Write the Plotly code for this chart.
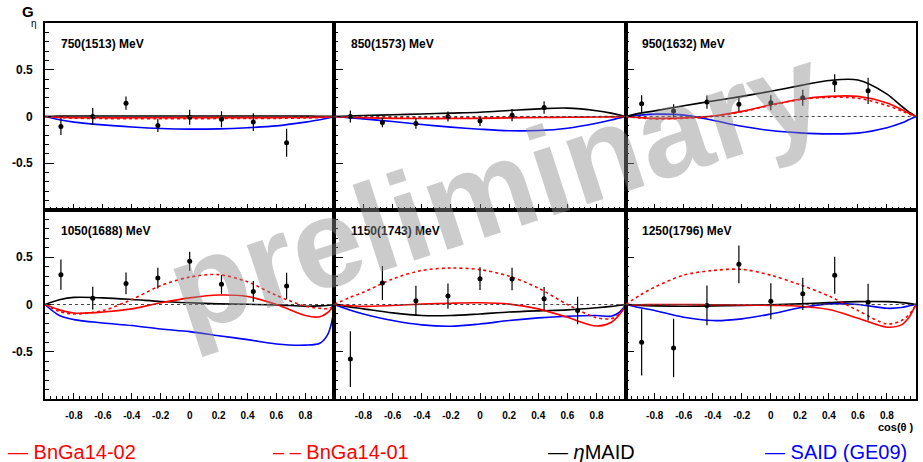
import plotly.graph_objects as go
from plotly.subplots import make_subplots

# ---------------- data ----------------
PANEL_LABELS = ["750(1513) MeV", "850(1573) MeV", "950(1632) MeV",
                "1050(1688) MeV", "1150(1743) MeV", "1250(1796) MeV"]

X_PTS = [-0.89, -0.67, -0.44, -0.22, 0.0, 0.22, 0.44, 0.67]

Y_750 = [-0.107, 0.0, 0.143, -0.096, -0.007, -0.03, -0.06, -0.28]
E_750 = [0.09, 0.09, 0.07, 0.07, 0.08, 0.085, 0.095, 0.15]
Y_850 = [0.0, -0.064, -0.075, 0.0, -0.046, 0.014, 0.096, None]
E_850 = [0.065, 0.05, 0.057, 0.054, 0.055, 0.066, 0.066, None]
Y_950 = [0.136, 0.06, 0.154, 0.132, 0.146, 0.2, 0.357, 0.275]
E_950 = [0.09, 0.07, 0.07, 0.075, 0.08, 0.085, 0.095, 0.14]
Y_1050 = [0.316, 0.067, 0.223, 0.28, 0.457, 0.213, 0.138, 0.195]
E_1050 = [0.16, 0.12, 0.115, 0.11, 0.1, 0.1, 0.11, 0.14]
Y_1150 = [-0.578, 0.227, 0.039, 0.089, 0.273, 0.27, 0.06, -0.064]
E_1150 = [0.295, 0.18, 0.16, 0.133, 0.12, 0.12, 0.124, 0.145]
Y_1250 = [-0.4, -0.46, -0.01, 0.425, 0.035, 0.113, 0.31, 0.025]
E_1250 = [0.35, 0.31, 0.21, 0.2, 0.19, 0.17, 0.195, 0.195]

# model curves, values read at these cos(theta) nodes
X_CURVE = [-1, -0.9, -0.8, -0.6, -0.4, -0.2, 0, 0.2, 0.4, 0.6, 0.8, 0.9, 0.95, 0.98, 1]

BNGA02_750 = [0, -0.008, -0.012, -0.014, -0.014, -0.013, -0.012, -0.012, -0.012, -0.012, -0.01, -0.007, -0.004, -0.002, 0]
BNGA01_750 = [0, -0.012, -0.018, -0.022, -0.024, -0.024, -0.023, -0.022, -0.021, -0.02, -0.016, -0.011, -0.006, -0.003, 0]
MAID_750 = [0, 0.004, 0.005, 0.005, 0.005, 0.005, 0.005, 0.005, 0.005, 0.005, 0.004, 0.003, 0.002, 0.001, 0]
SAID_750 = [0, -0.035, -0.06, -0.09, -0.112, -0.128, -0.135, -0.132, -0.12, -0.1, -0.06, -0.035, -0.018, -0.007, 0]

BNGA02_850 = [0, -0.008, -0.014, -0.02, -0.022, -0.022, -0.02, -0.015, -0.01, -0.008, -0.006, -0.004, -0.002, -0.001, 0]
BNGA01_850 = [0, -0.005, -0.008, -0.012, -0.014, -0.013, -0.01, -0.006, -0.003, -0.002, -0.002, -0.001, -0.001, 0, 0]
MAID_850 = [0, 0.004, 0.01, 0.018, 0.027, 0.036, 0.046, 0.064, 0.082, 0.09, 0.062, 0.036, 0.018, 0.007, 0]
SAID_850 = [0, -0.012, -0.025, -0.054, -0.086, -0.114, -0.136, -0.152, -0.15, -0.125, -0.072, -0.038, -0.018, -0.007, 0]

BNGA02_950 = [0, -0.012, -0.02, -0.015, 0.005, 0.055, 0.125, 0.185, 0.215, 0.215, 0.145, 0.075, 0.035, 0.014, 0]
BNGA01_950 = [0, -0.015, -0.025, -0.02, 0.0, 0.05, 0.12, 0.18, 0.205, 0.195, 0.118, 0.06, 0.028, 0.011, 0]
MAID_950 = [0, 0.036, 0.06, 0.115, 0.165, 0.215, 0.27, 0.33, 0.385, 0.39, 0.24, 0.11, 0.05, 0.02, 0]
SAID_950 = [0, 0.015, 0.025, 0.015, -0.04, -0.105, -0.15, -0.175, -0.186, -0.178, -0.12, -0.07, -0.035, -0.014, 0]

BNGA02_1050 = [0, -0.057, -0.09, -0.08, -0.046, 0.018, 0.07, 0.1, 0.085, 0.0, -0.117, -0.13, -0.09, -0.045, 0]
BNGA01_1050 = [0, -0.075, -0.1, -0.064, 0.053, 0.2, 0.29, 0.316, 0.24, 0.096, -0.018, -0.04, -0.045, -0.03, 0]
MAID_1050 = [0, 0.05, 0.075, 0.07, 0.053, 0.032, 0.018, 0.007, 0.002, -0.004, -0.018, -0.015, -0.01, -0.005, 0]
SAID_1050 = [0, -0.117, -0.16, -0.195, -0.223, -0.26, -0.287, -0.33, -0.372, -0.418, -0.43, -0.41, -0.33, -0.2, 0]

BNGA02_1150 = [0, -0.012, -0.02, -0.01, 0.004, 0.014, 0.018, 0.004, -0.046, -0.135, -0.228, -0.19, -0.12, -0.06, 0]
BNGA01_1150 = [0, 0.07, 0.13, 0.27, 0.36, 0.386, 0.369, 0.3, 0.174, 0.0, -0.14, -0.15, -0.11, -0.06, 0]
MAID_1150 = [0, -0.025, -0.046, -0.089, -0.117, -0.117, -0.1, -0.08, -0.067, -0.057, -0.035, -0.02, -0.01, -0.004, 0]
SAID_1150 = [0, -0.055, -0.1, -0.17, -0.216, -0.23, -0.206, -0.17, -0.142, -0.124, -0.117, -0.124, -0.09, -0.045, 0]

BNGA02_1250 = [0, -0.002, 0, 0, -0.002, -0.005, -0.01, -0.018, -0.053, -0.145, -0.24, -0.216, -0.14, -0.06, 0]
BNGA01_1250 = [0, 0.1, 0.184, 0.31, 0.36, 0.372, 0.31, 0.21, 0.09, -0.064, -0.205, -0.17, -0.11, -0.05, 0]
MAID_1250 = [0, -0.01, -0.015, -0.018, -0.015, -0.01, -0.002, 0.007, 0.02, 0.03, 0.03, 0.02, 0.012, 0.005, 0]
SAID_1250 = [0, -0.035, -0.064, -0.135, -0.17, -0.152, -0.1, -0.035, 0.007, 0, -0.04, -0.032, -0.015, -0.005, 0]

X_TICKS = [-0.8, -0.6, -0.4, -0.2, 0, 0.2, 0.4, 0.6, 0.8]
X_TICKTEXT = ["-0.8", "-0.6", "-0.4", "-0.2", "0", "0.2", "0.4", "0.6", "0.8"]
Y_TICKS = [-0.5, 0, 0.5]
Y_TICKTEXT = ["-0.5", "0", "0.5"]

LEGEND_NAMES = ["BnGa14-02", "BnGa14-01", "\u03b7MAID", "SAID (GE09)"]

PANELS = [
    (Y_750, E_750, BNGA02_750, BNGA01_750, MAID_750, SAID_750),
    (Y_850, E_850, BNGA02_850, BNGA01_850, MAID_850, SAID_850),
    (Y_950, E_950, BNGA02_950, BNGA01_950, MAID_950, SAID_950),
    (Y_1050, E_1050, BNGA02_1050, BNGA01_1050, MAID_1050, SAID_1050),
    (Y_1150, E_1150, BNGA02_1150, BNGA01_1150, MAID_1150, SAID_1150),
    (Y_1250, E_1250, BNGA02_1250, BNGA01_1250, MAID_1250, SAID_1250),
]

# ---------------- figure ----------------
fig = make_subplots(rows=2, cols=3, horizontal_spacing=0, vertical_spacing=0)

W_PLOT = 873.0
H_PLOT = 376.0
xdoms = [[0, 290 / W_PLOT], [290 / W_PLOT, 582 / W_PLOT], [582 / W_PLOT, 1]]
ydoms = [[189 / H_PLOT, 1], [0, 189 / H_PLOT]]

RED = "#ff0000"
BLUE = "#0000ff"
SPL = dict(shape="spline", smoothing=0.9)

for i, (yp, ep, b2, b1, maid, said) in enumerate(PANELS):
    r, c = i // 3 + 1, i % 3 + 1
    fig.add_trace(go.Scatter(x=X_CURVE, y=said, mode="lines",
                             line=dict(color=BLUE, width=1.6, **SPL), showlegend=False), row=r, col=c)
    fig.add_trace(go.Scatter(x=X_CURVE, y=maid, mode="lines",
                             line=dict(color="black", width=1.6, **SPL), showlegend=False), row=r, col=c)
    fig.add_trace(go.Scatter(x=X_CURVE, y=b1, mode="lines",
                             line=dict(color=RED, width=1.6, dash="dot", **SPL), showlegend=False), row=r, col=c)
    fig.add_trace(go.Scatter(x=X_CURVE, y=b2, mode="lines",
                             line=dict(color=RED, width=1.6, **SPL), showlegend=False), row=r, col=c)
    fig.add_trace(go.Scatter(x=X_PTS, y=yp, mode="markers",
                             marker=dict(color="black", size=5),
                             error_y=dict(type="data", array=ep, visible=True,
                                          color="black", thickness=1.2, width=0),
                             showlegend=False), row=r, col=c)

    axn = "" if i == 0 else str(i + 1)
    fig.add_shape(type="line", xref=f"x{axn} domain", yref=f"y{axn}",
                  x0=0, x1=1, y0=0, y1=0,
                  line=dict(color="#444444", width=1, dash="dot"))
    fig.add_annotation(xref=f"x{axn} domain", yref=f"y{axn} domain",
                       x=0.05, y=0.89, xanchor="left", yanchor="middle",
                       text=f"<b>{PANEL_LABELS[i]}</b>", showarrow=False,
                       font=dict(family="Liberation Sans", size=12, color="black"))

    fig.update_xaxes(domain=xdoms[c - 1], range=[-1, 1],
                     showline=True, linecolor="black", linewidth=1.6, mirror=True,
                     ticks="inside", ticklen=6, tickwidth=1, tickcolor="black",
                     tickmode="array", tickvals=X_TICKS, ticktext=X_TICKTEXT,
                     showticklabels=(r == 2), ticklabelstandoff=6,
                     tickfont=dict(family="Liberation Sans", size=10, color="black", weight="bold"),
                     minor=dict(tickmode="linear", tick0=-1, dtick=0.04, ticks="inside",
                                ticklen=3, tickwidth=1, tickcolor="black"),
                     showgrid=False, zeroline=False, row=r, col=c)
    fig.update_yaxes(domain=ydoms[r - 1], range=[-1, 1],
                     showline=True, linecolor="black", linewidth=1.6, mirror=True,
                     ticks="inside", ticklen=9, tickwidth=1, tickcolor="black",
                     tickmode="array", tickvals=Y_TICKS, ticktext=Y_TICKTEXT,
                     showticklabels=(c == 1), ticklabelstandoff=8,
                     tickfont=dict(family="Liberation Sans", size=12, color="black", weight="bold"),
                     minor=dict(tickmode="linear", tick0=0, dtick=0.1, ticks="inside",
                                ticklen=4, tickwidth=1, tickcolor="black"),
                     showgrid=False, zeroline=False, row=r, col=c)

# watermark
fig.add_annotation(xref="paper", yref="paper", x=0.517, y=0.559,
                   xanchor="center", yanchor="middle",
                   text="<b>preliminary</b>", showarrow=False, textangle=-18,
                   font=dict(family="Liberation Sans", size=126, color="rgba(140,140,140,0.45)"))

# axis titles
fig.add_annotation(xref="paper", yref="paper", x=(28 - 45) / W_PLOT, y=1 + (23 - 12) / H_PLOT,
                   xanchor="center", yanchor="middle",
                   text="<b>G</b>", showarrow=False,
                   font=dict(family="Liberation Sans", size=15, color="black"))
fig.add_annotation(xref="paper", yref="paper", x=(34 - 45) / W_PLOT, y=1 + (23 - 24) / H_PLOT,
                   xanchor="center", yanchor="middle",
                   text="\u03b7", showarrow=False,
                   font=dict(family="Liberation Sans", size=10, color="black"))
fig.add_annotation(xref="paper", yref="paper", x=1.0, y=-(427 - 399) / H_PLOT,
                   xanchor="right", yanchor="middle",
                   text="<b>cos(\u03b8 )</b>", showarrow=False,
                   font=dict(family="Liberation Sans", size=11, color="black"))

# legend row
LEG_X = [6, 272, 547, 765]
LEG_COL = [RED, RED, "black", BLUE]
LEG_DASH = ["\u2014 ", "\u2013 \u2013 ", "\u2014 ", "\u2014 "]
for name, lx, col, d in zip(LEGEND_NAMES, LEG_X, LEG_COL, LEG_DASH):
    txt = d + (f"<i>\u03b7</i>MAID" if name.startswith("\u03b7") else name)
    fig.add_annotation(xref="paper", yref="paper", x=(lx - 45) / W_PLOT, y=-(452 - 399) / H_PLOT,
                       xanchor="left", yanchor="middle", text=txt, showarrow=False,
                       font=dict(family="Liberation Sans", size=20, color=col))

fig.update_layout(width=923, height=462, margin=dict(l=45, r=5, t=23, b=63),
                  plot_bgcolor="white", paper_bgcolor="white", showlegend=False)

fig.write_html("out.html", config={"displayModeBar": False},
               post_script="document.body.style.margin='0px';document.body.style.padding='0px';")
